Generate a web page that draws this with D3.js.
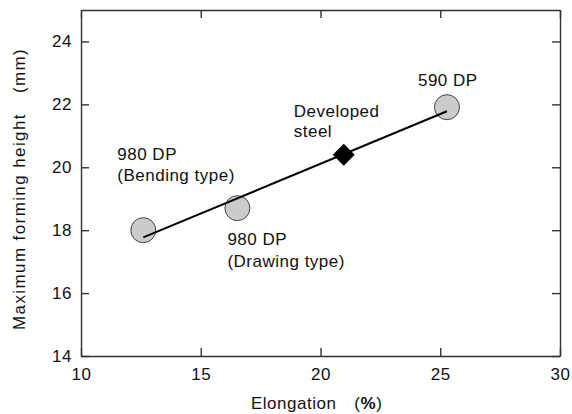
<!DOCTYPE html>
<html>
<head>
<meta charset="utf-8">
<script src="https://cdn.jsdelivr.net/npm/d3@7"></script>
<style>
  body { margin: 0; background: #fff; }
  svg { display: block; font-family: "Liberation Sans", Arial, Helvetica, sans-serif; }
  .axis text { font-size: 17px; fill: #111; letter-spacing: 0.5px; }
  .axis line, .axis path { stroke: #333; stroke-width: 1.4; }
  .lbl { font-size: 17px; fill: #111; letter-spacing: 0.5px; }
</style>
</head>
<body>
<div class="chart-area"></div>
<script>
// steels: elongation (%) vs max forming height (mm)
const names = ["980 DP (Bending type)", "980 DP (Drawing type)", "Developed steel", "590 DP"];
const elong = [12.6, 16.53, 20.97, 25.28];
const height = [18.0, 18.7, 20.4, 21.91];
const isDeveloped = [false, false, true, false];

// fitted line end points
const fitX = [12.6, 25.28];
const fitY = [17.77, 21.78];

const xTicks = [10, 15, 20, 25, 30];
const yTicks = [14, 16, 18, 20, 22, 24];

const labelLines = [
  ["980 DP", "(Bending type)"],
  ["980 DP", "(Drawing type)"],
  ["Developed", "steel"],
  ["590 DP"]
];

const W = 572, H = 414;
const margin = { top: 10, right: 12, bottom: 58, left: 81 };

const svg = d3.select('.chart-area').append('svg').attr('width', W).attr('height', H);

const x = d3.scaleLinear().domain([10, 30]).range([margin.left, W - margin.right]);
const y = d3.scaleLinear().domain([14, 25]).range([H - margin.bottom, margin.top]);

// axes, ticks pointing inward
svg.append("g").attr("class", "axis")
  .attr("transform", `translate(0,${H - margin.bottom})`)
  .call(d3.axisBottom(x).tickValues(xTicks).tickSizeInner(-8).tickSizeOuter(0).tickPadding(12));

svg.append("g").attr("class", "axis")
  .attr("transform", `translate(${margin.left},0)`)
  .call(d3.axisLeft(y).tickValues(yTicks).tickSizeInner(-8).tickSizeOuter(0).tickPadding(9));

svg.append("g").attr("class", "axis")
  .attr("transform", `translate(0,${margin.top})`)
  .call(d3.axisTop(x).tickValues(xTicks).tickSizeInner(-8).tickSizeOuter(0).tickFormat(""));

svg.append("g").attr("class", "axis")
  .attr("transform", `translate(${W - margin.right},0)`)
  .call(d3.axisRight(y).tickValues(yTicks).tickSizeInner(-8).tickSizeOuter(0).tickFormat(""));

svg.selectAll(".axis text").attr("font-family", null);
svg.selectAll(".axis").attr("font-family", null).attr("font-size", null);

const pts = d3.range(names.length).map(i => ({ name: names[i], x: elong[i], y: height[i], dev: isDeveloped[i], lines: labelLines[i] }));

// circles
svg.append("g").selectAll("circle")
  .data(pts.filter(d => !d.dev))
  .join("circle")
  .attr("cx", d => x(d.x))
  .attr("cy", d => y(d.y))
  .attr("r", 12.5)
  .attr("fill", "#cbcbcb")
  .attr("stroke", "#444")
  .attr("stroke-width", 1);

// fitted line
svg.append("line")
  .attr("x1", x(fitX[0])).attr("y1", y(fitY[0]))
  .attr("x2", x(fitX[1])).attr("y2", y(fitY[1]))
  .attr("stroke", "#000")
  .attr("stroke-width", 2);

// developed steel diamond
svg.append("g").selectAll("path")
  .data(pts.filter(d => d.dev))
  .join("path")
  .attr("transform", d => `translate(${x(d.x)},${y(d.y)})`)
  .attr("d", "M0,-11L11,0L0,11L-11,0Z")
  .attr("fill", "#000");

// annotations, offset from each point
const offsets = [[-26, -70], [-10, 37], [-50, -38], [-29, -21]];
const lineGap = [21, 22, 20, 0];
pts.forEach((d, i) => {
  const t = svg.append("text").attr("class", "lbl")
    .attr("x", x(d.x) + offsets[i][0])
    .attr("y", y(d.y) + offsets[i][1]);
  d.lines.forEach((s, k) => {
    t.append("tspan")
      .attr("x", x(d.x) + offsets[i][0])
      .attr("dy", k === 0 ? 0 : lineGap[i])
      .text(s);
  });
});

// axis titles
const xt = svg.append("text").attr("class", "lbl")
  .attr("x", 251).attr("y", 409);
xt.append("tspan").text("Elongation");
xt.append("tspan").attr("dx", 18).text("(");
xt.append("tspan").attr("font-weight", "bold").text("%");
xt.append("tspan").text(")");

const yt = svg.append("text").attr("class", "lbl")
  .attr("transform", "translate(25,330) rotate(-90)")
  .style("letter-spacing", "1.4px");
yt.append("tspan").text("Maximum forming height");
yt.append("tspan").attr("dx", 20).text("(mm)");
</script>
</body>
</html>
